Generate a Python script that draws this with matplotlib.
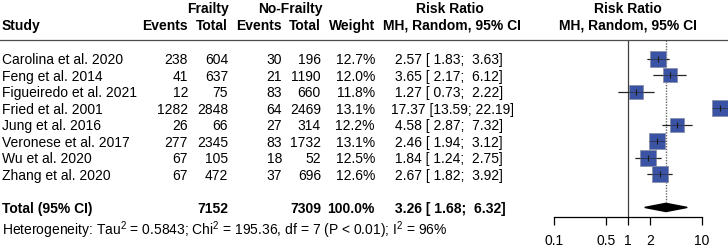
import matplotlib.pyplot as plt
import matplotlib.transforms as mtransforms
from matplotlib.lines import Line2D
from matplotlib.patches import Polygon
import numpy as np

plt.rcParams['font.family'] = ['Liberation Sans', 'DejaVu Sans']
plt.rcParams['font.size'] = 10
plt.rcParams['mathtext.fontset'] = 'custom'
plt.rcParams['mathtext.rm'] = 'Liberation Sans'

# data
studies = ['Carolina et al. 2020', 'Feng et al. 2014', 'Figueiredo et al. 2021',
           'Fried et al. 2001', 'Jung et al. 2016', 'Veronese et al. 2017',
           'Wu et al. 2020', 'Zhang et al. 2020']
ev_frail = [238, 41, 12, 1282, 26, 277, 67, 67]
tot_frail = [604, 637, 75, 2848, 66, 2345, 105, 472]
ev_nofrail = [30, 21, 83, 64, 27, 83, 18, 37]
tot_nofrail = [196, 1190, 660, 2469, 314, 1732, 52, 696]
weights = [12.7, 12.0, 11.8, 13.1, 12.2, 13.1, 12.5, 12.6]
rr = [2.57, 3.65, 1.27, 17.37, 4.58, 2.46, 1.84, 2.67]
lower = [1.83, 2.17, 0.73, 13.59, 2.87, 1.94, 1.24, 1.82]
upper = [3.63, 6.12, 2.22, 22.19, 7.32, 3.12, 2.75, 3.92]

total_frail = 7152
total_nofrail = 7309
pooled_rr, pooled_lo, pooled_hi = 3.26, 1.68, 6.32
xticks = [0.1, 0.5, 1, 2, 10]

W, H = 728, 252
fig = plt.figure(figsize=(W / 100, H / 100), dpi=100)

# forest panel: pixel 554 -> 0.1 and 74 px per decade
x0, x1 = 554, 728
y_top, y_bot = 40, 217
ax = fig.add_axes([x0 / W, 1 - y_bot / H, (x1 - x0) / W, (y_bot - y_top) / H])
ax.set_xscale('log')
ax.set_xlim(0.1, 10 ** ((x1 - 628) / 74))
ax.set_ylim(9.58, -1.15)
for s in ['top', 'left', 'right']:
    ax.spines[s].set_visible(False)
ax.spines['bottom'].set_bounds(0.1, 10)
ax.spines['bottom'].set_linewidth(0.9)
ax.set_yticks([])
ax.set_xticks(xticks)
ax.set_xticklabels([f'{t:g}' for t in xticks])
ax.xaxis.set_minor_locator(plt.NullLocator())
ax.tick_params(axis='x', direction='out', length=6, width=0.9, pad=6, labelsize=10)

rows = np.arange(len(studies))
ax.axvline(1, color='0.25', lw=0.9)
ax.vlines(pooled_rr, -1.15, 8.7, color='0.4', lw=1, linestyles=(0, (1, 1)))
ax.hlines(rows, lower, upper, color='0.15', lw=0.9, zorder=2)
sizes = 11 * np.sqrt(np.array(weights) / 12.7)
for i in rows:
    ax.plot(rr[i], i, marker='s', ms=sizes[i], mfc='#3a53a4', mec='#8a8fa8',
            mew=0.6, zorder=3, clip_on=False)
ax.hlines(rows, lower, upper, color='0.15', lw=0.7, zorder=4, alpha=0.6)
ax.plot(rr, rows, '|', color='0.1', ms=5, mew=0.8, zorder=5, clip_on=False)

ty = 9
dh = 0.25
ax.add_patch(Polygon([[pooled_lo, ty], [pooled_rr, ty - dh], [pooled_hi, ty],
                      [pooled_rr, ty + dh]], closed=True, color='black'))

# text columns (x in pixels, y in rows)
tr = mtransforms.blended_transform_factory(fig.transFigure, ax.transData)


def txt(xp, y, s, ha='left', bold=False):
    ax.text(xp / W, y, s, transform=tr, ha=ha, va='center_baseline',
            fontweight='bold' if bold else 'normal', clip_on=False)


hy1, hy2 = -3.15, -2.1
txt(208, hy1, 'Frailty', 'center', True)
txt(290, hy1, 'No-Frailty', 'center', True)
txt(450, hy1, 'Risk Ratio', 'center', True)
txt(628, hy1, 'Risk Ratio', 'center', True)
txt(2, hy2, 'Study', 'left', True)
txt(188, hy2, 'Events', 'right', True)
txt(228, hy2, 'Total', 'right', True)
txt(282, hy2, 'Events', 'right', True)
txt(321, hy2, 'Total', 'right', True)
txt(375, hy2, 'Weight', 'right', True)
txt(452, hy2, 'MH, Random, 95% CI', 'center', True)
txt(628, hy2, 'MH, Random, 95% CI', 'center', True)

fig.add_artist(Line2D([0, 1], [1 - y_top / H] * 2, color='0.3', lw=0.9))

for i in rows:
    txt(2, i, studies[i])
    txt(188, i, str(ev_frail[i]), 'right')
    txt(228, i, str(tot_frail[i]), 'right')
    txt(282, i, str(ev_nofrail[i]), 'right')
    txt(321, i, str(tot_nofrail[i]), 'right')
    txt(375, i, f'{weights[i]:.1f}%', 'right')
    txt(391, i, f'{rr[i]:5.2f} [{lower[i]:5.2f}; {upper[i]:5.2f}]')

txt(2, ty, 'Total (95% CI)', 'left', True)
txt(228, ty, str(total_frail), 'right', True)
txt(321, ty, str(total_nofrail), 'right', True)
txt(375, ty, '100.0%', 'right', True)
txt(391, ty, f'{pooled_rr:5.2f} [{pooled_lo:5.2f}; {pooled_hi:5.2f}]', 'left', True)
txt(2, 10.2, 'Heterogeneity: Tau$^2$ = 0.5843; Chi$^2$ = 195.36, df = 7 '
             '(P < 0.01); I$^2$ = 96%')

fig.savefig('out.png', dpi=100, facecolor='white')
